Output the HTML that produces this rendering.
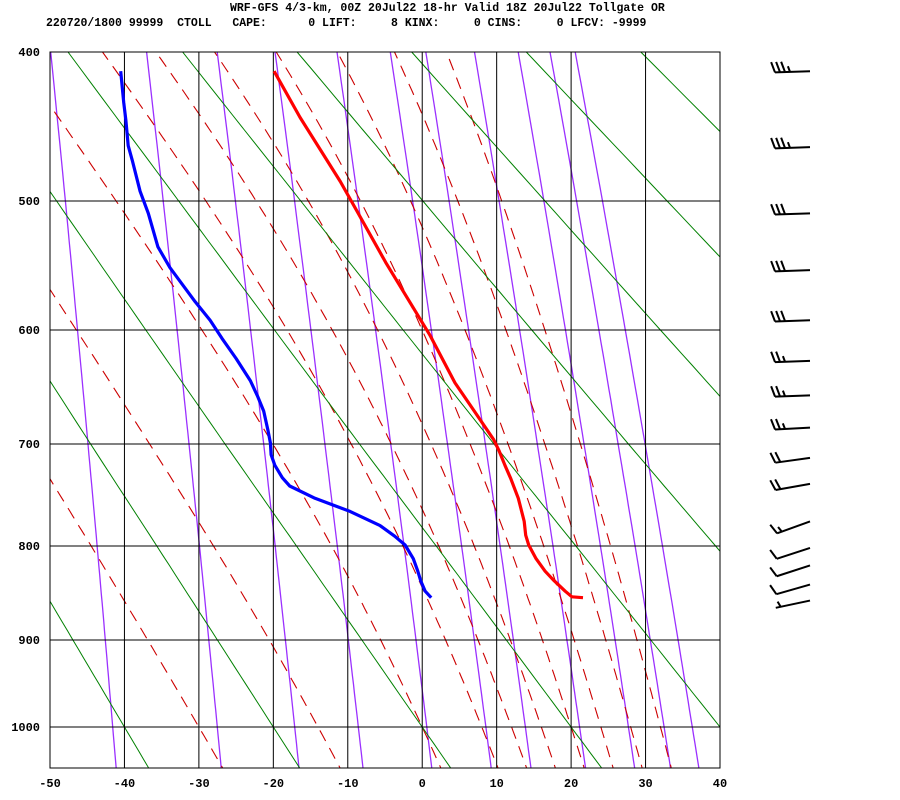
<!DOCTYPE html>
<html><head><meta charset="utf-8"><style>
html,body{margin:0;padding:0;background:#fff;}
svg{display:block;}
text{font-family:"Liberation Mono",monospace;font-weight:bold;fill:#000;}
</style></head><body>
<svg id="chart" width="900" height="800" viewBox="0 0 900 800" xmlns="http://www.w3.org/2000/svg">
<defs><clipPath id="plotclip"><rect x="50" y="52" width="670" height="716"/></clipPath></defs>
<text x="230" y="11" font-size="11.5" xml:space="preserve">WRF-GFS 4/3-km, 00Z 20Jul22 18-hr Valid 18Z 20Jul22 Tollgate OR</text>
<text x="46" y="26" font-size="11.5" xml:space="preserve">220720/1800 99999  CTOLL   CAPE:      0 LIFT:     8 KINX:     0 CINS:     0 LFCV: -9999</text>
<g id="bg" clip-path="url(#plotclip)"></g>
<g id="grid"></g>
<g id="profiles" clip-path="url(#plotclip)"></g>
<g id="winds"></g>
<rect x="50" y="52" width="670" height="716" fill="none" stroke="#000" stroke-width="1"/>
</svg>
<script>
// ---- data ----
const tempTicks = [-50,-40,-30,-20,-10,0,10,20,30,40];
const presTicks = [400,500,600,700,800,900,1000];
const tempP = [854,853,847,835,826,813,799,789,775,752,733,720,706,696,670,645,604,546,507,486,442,412];
const tempT = [21.6,20.1,19.2,17.6,16.5,15.3,14.3,13.9,13.7,12.9,11.9,11.1,10.3,9.6,7.0,4.4,1.0,-4.9,-8.8,-11.0,-16.4,-19.9];
const dewP = [854,847,836,826,813,799,790,779,765,752,740,732,720,710,699,688,670,657,643,624,607,592,577,561,550,534,509,493,472,461,444,432,412];
const dewT = [1.2,0.4,-0.2,-0.6,-1.2,-2.3,-3.7,-5.7,-9.7,-14.4,-17.8,-18.8,-19.8,-20.3,-20.4,-20.7,-21.3,-22.1,-23.1,-25.0,-26.9,-28.5,-30.5,-32.5,-33.9,-35.5,-36.8,-37.9,-38.9,-39.5,-39.8,-40.1,-40.5];
const windP = [412,462,509,552,592,626,656,685,713,738,775,802,820,840,857];
const windDir = [268,268,268,268,268,268,268,267,262,260,250,252,252,254,258];
const windSpd = [35,35,30,30,30,25,25,25,20,20,15,10,10,10,5];
const dryTheta = [-40,-20,0,20,40,60,80,100,120,140,160,180];
const moistThetaW = [-30,-14,0,8,12,16,20,24,28,32];
const mixRatios = [0.1,0.4,1,2,4,7,10,16,24,32,40];

// ---- axes ----
const anchorP = [400,500,600,700,800,900,1000];
const anchorY = [52,201,330,444,546,640,727];
function xT(t){ return 50 + (t+50)*670/90; }
function yP(p){
  const k = Math.pow(p,0.286);
  let i = 0;
  while(i < anchorP.length-2 && p > anchorP[i+1]) i++;
  const k0 = Math.pow(anchorP[i],0.286), k1 = Math.pow(anchorP[i+1],0.286);
  return anchorY[i] + (k-k0)/(k1-k0)*(anchorY[i+1]-anchorY[i]);
}
const NS = "http://www.w3.org/2000/svg";
function mk(tag, attrs, parent){
  const e = document.createElementNS(NS, tag);
  for(const k in attrs) e.setAttribute(k, attrs[k]);
  parent.appendChild(e); return e;
}
const bg = document.getElementById('bg'), grid = document.getElementById('grid');
const prof = document.getElementById('profiles'), winds = document.getElementById('winds');
function polyStr(pts){ return pts.map(q=>q[0].toFixed(1)+','+q[1].toFixed(1)).join(' '); }

// mixing ratio lines
function tdFromW(p,w){ const e = (w/1000)*p/(0.622+w/1000); const l = Math.log(e/6.112); return 243.5*l/(17.67-l); }
mixRatios.forEach(w=>{
  const pts=[]; for(let p=390;p<=1060;p+=10) pts.push([xT(tdFromW(p,w)), yP(p)]);
  const el = mk('polyline',{points:polyStr(pts),fill:'none',stroke:'#9b30ff','stroke-width':1.3},bg);
  
  
});
// moist adiabats
function es(tc){ return 6.112*Math.exp(17.67*tc/(tc+243.5)); }
function dTdp(p,T){ const e=es(T-273.15); const rs=0.622*e/(p-e);
  return (287*T + 2.5e6*rs)/(p*(1004 + 2.5e6*2.5e6*rs*0.622/(287*T*T))); }
moistThetaW.forEach(tw=>{
  let T=tw+273.15;
  const up=[]; for(let p=1000;p>=390;p-=5){ up.push([xT(T-273.15),yP(p)]); T -= dTdp(p,T)*5; }
  T=tw+273.15; const dn=[]; for(let p=1000;p<=1060;p+=5){ dn.push([xT(T-273.15),yP(p)]); T += dTdp(p,T)*5; }
  const all = dn.reverse().concat(up.slice(1));
  const el = mk('polyline',{points:polyStr(all),fill:'none',stroke:'#cc0000','stroke-width':1.1,'stroke-dasharray':'12 8'},bg);
  
  
});
// dry adiabats
dryTheta.forEach(th=>{
  const pts=[]; for(let p=390;p<=1060;p+=10){ pts.push([xT((th+273.15)*Math.pow(p/1000,0.286)-273.15), yP(p)]); }
  const el = mk('polyline',{points:polyStr(pts),fill:'none',stroke:'#008000','stroke-width':1},bg);
  
  
});
// grid + labels
tempTicks.forEach(t=>{
  const x=xT(t);
  const l = mk('line',{x1:x,y1:52,x2:x,y2:768,stroke:'#000','stroke-width':1},grid);
  
  
  const tx = mk('text',{x:x,y:787,'font-size':12,'text-anchor':'middle'},grid);
  tx.textContent = t;
  
  
});
presTicks.forEach(p=>{
  const y=yP(p);
  const l = mk('line',{x1:50,y1:y,x2:720,y2:y,stroke:'#000','stroke-width':1},grid);
  
  
  const tx = mk('text',{x:40,y:y+4,'font-size':12,'text-anchor':'end'},grid);
  tx.textContent = p;
  
  
});
// profiles
const tp = mk('polyline',{points:polyStr(tempP.map((p,i)=>[xT(tempT[i]),yP(p)])),fill:'none',stroke:'#ff0000','stroke-width':3.2,'stroke-linejoin':'round'},prof);


const dp = mk('polyline',{points:polyStr(dewP.map((p,i)=>[xT(dewT[i]),yP(p)])),fill:'none',stroke:'#0000ff','stroke-width':3.2,'stroke-linejoin':'round'},prof);


// wind barbs
windP.forEach((p,i)=>{
  const sx=810, sy=yP(p), L=35, a=windDir[i]*Math.PI/180;
  const ux=Math.sin(a), uy=-Math.cos(a);
  const tx=sx+ux*L, ty=sy+uy*L;
  const g = mk('g',{stroke:'#000','stroke-width':2,fill:'none'},winds);
  
  
  mk('line',{x1:sx,y1:sy,x2:tx,y2:ty},g);
  const px=-uy, py=ux; // perpendicular (upward side)
  const bx=px*0.95+ux*0.32, by=py*0.95+uy*0.32;
  const spd=windSpd[i]; let pos=0;
  const full=Math.floor(spd/10), half=(spd%10)>=5?1:0;
  for(let k=0;k<full;k++){
    const ox=tx-ux*pos, oy=ty-uy*pos;
    mk('line',{x1:ox,y1:oy,x2:ox+bx*11,y2:oy+by*11},g); pos+=5;
  }
  if(half){ if(full===0) pos=5; const ox=tx-ux*pos, oy=ty-uy*pos;
    mk('line',{x1:ox,y1:oy,x2:ox+bx*6,y2:oy+by*6},g); }
});
</script>
</body></html>
